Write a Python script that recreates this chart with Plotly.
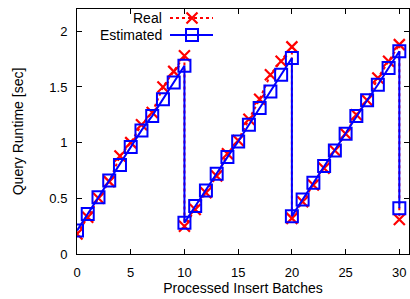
import plotly.graph_objects as go

batches = [0, 1, 2, 3, 4, 5, 6, 7, 8, 9, 10,
           10, 11, 12, 13, 14, 15, 16, 17, 18, 19, 20,
           20, 21, 22, 23, 24, 25, 26, 27, 28, 29, 30,
           30]
real = [0.18, 0.33, 0.50, 0.65, 0.88, 1.00, 1.16, 1.27, 1.50, 1.64, 1.78,
        0.25, 0.40, 0.55, 0.70, 0.90, 1.02, 1.21, 1.39, 1.61, 1.73, 1.86,
        0.32, 0.47, 0.62, 0.77, 0.93, 1.08, 1.25, 1.38, 1.58, 1.73, 1.88,
        0.31]
estimated = [0.21, 0.36, 0.51, 0.66, 0.80, 0.96, 1.11, 1.24, 1.39, 1.54, 1.69,
             0.28, 0.43, 0.57, 0.72, 0.87, 1.01, 1.16, 1.31, 1.46, 1.61, 1.76,
             0.34, 0.49, 0.64, 0.79, 0.93, 1.08, 1.24, 1.38, 1.52, 1.67, 1.82,
             0.41]
x_ticks = [0, 5, 10, 15, 20, 25, 30]
y_ticks = [0, 0.5, 1, 1.5, 2]
y_tick_labels = ["0", "0.5", "1", "1.5", "2"]
series_names = ["Real", "Estimated"]

RED = "#ff0000"
BLUE = "#0000ff"
FONT = "Liberation Sans, Arial, sans-serif"

W, H = 410, 299
ML, MR, MT, MB = 77, 1, 9, 45

real_line = dict(color=RED, width=2, dash="dot")
real_marker = dict(symbol="x-thin", size=11, line=dict(color=RED, width=2.2), color=RED)
est_line = dict(color=BLUE, width=2)
est_marker = dict(symbol="square-open", size=12, line=dict(color=BLUE, width=2), color=BLUE)

fig = go.Figure()
fig.add_trace(go.Scatter(x=batches, y=real, mode="lines+markers", name=series_names[0],
                         line=real_line, marker=real_marker, showlegend=False))
fig.add_trace(go.Scatter(x=batches, y=estimated, mode="lines+markers", name=series_names[1],
                         line=est_line, marker=est_marker, showlegend=False))

# gnuplot-style key (text left, sample right), on an overlay axis in pixel units
key_rows = [18, 35]
key_line_x = [170, 213]
key_marker_x = [192]
for name, row, ln, mk in [(series_names[0], key_rows[0], real_line, real_marker),
                          (series_names[1], key_rows[1], est_line, est_marker)]:
    fig.add_trace(go.Scatter(x=key_line_x, y=[row, row], mode="lines", line=ln,
                             xaxis="x2", yaxis="y2", showlegend=False, hoverinfo="skip"))
    fig.add_trace(go.Scatter(x=key_marker_x, y=[row], mode="markers", marker=mk,
                             xaxis="x2", yaxis="y2", showlegend=False, hoverinfo="skip"))
    fig.add_annotation(x=164, y=row, xref="x2", yref="y2", text=name, showarrow=False,
                       xanchor="right", yanchor="middle",
                       font=dict(family=FONT, size=14, color="#000000"))

axis_common = dict(showgrid=False, zeroline=False, showline=True, linecolor="#000000",
                   linewidth=1, mirror="allticks", ticks="inside", ticklen=5,
                   tickcolor="#000000", tickwidth=1, automargin=False,
                   tickfont=dict(family=FONT, size=13, color="#000000"))

fig.update_layout(
    width=W, height=H,
    margin=dict(l=ML, r=MR, t=MT, b=MB),
    paper_bgcolor="white", plot_bgcolor="white",
    xaxis=dict(range=[0, 30.9], tickvals=x_ticks, ticklabelstandoff=6,
               title=dict(text="Processed Insert Batches", standoff=4,
                          font=dict(family=FONT, size=14, color="#000000")),
               **axis_common),
    yaxis=dict(range=[0, 2.2], tickvals=y_ticks, ticktext=y_tick_labels, ticklabelstandoff=6,
               title=dict(text="Query Runtime [sec]", standoff=22,
                          font=dict(family=FONT, size=14, color="#000000")),
               **axis_common),
    xaxis2=dict(range=[ML, W - MR], overlaying="x", visible=False, fixedrange=True),
    yaxis2=dict(range=[H - MB, MT], overlaying="y", visible=False, fixedrange=True),
    showlegend=False,
)

fig.write_html("out.html", config={"displayModeBar": False},
               post_script="document.body.style.margin='0';document.body.style.overflow='hidden';")
